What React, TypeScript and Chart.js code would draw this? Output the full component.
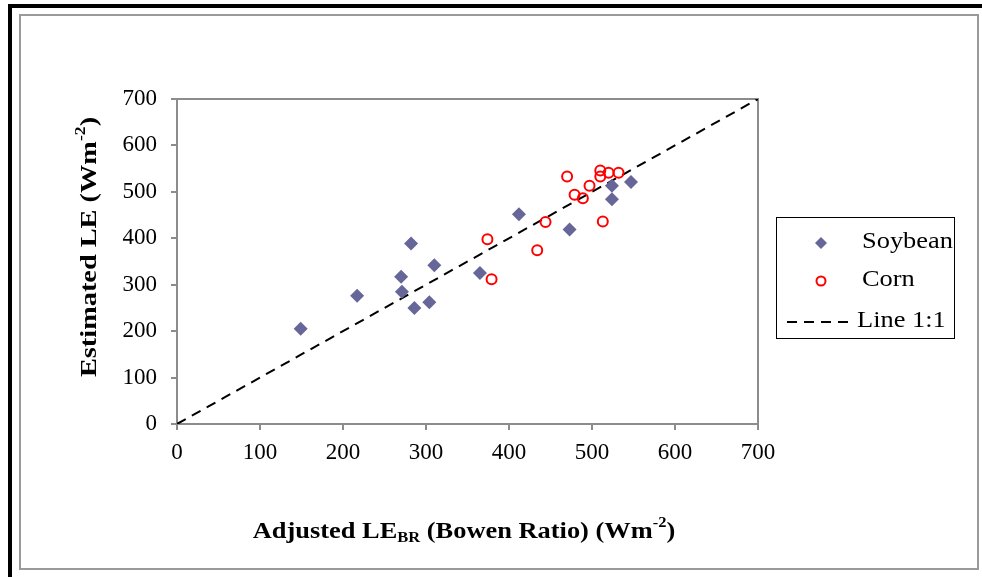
import React, { useEffect, useRef } from 'react';
import { Chart, registerables } from 'chart.js';
Chart.register(...registerables);

const soybeanX = [149, 217, 282, 270, 271, 286, 304, 310, 365, 412, 473, 524, 524, 547];
const soybeanY = [205, 276, 389, 317, 285, 250, 262, 342, 325, 452, 419, 484, 513, 521];
const cornX = [374, 379, 434, 444, 470, 479, 489, 497, 513, 510, 510, 520, 532];
const cornY = [398, 312, 374, 435, 533, 494, 486, 513, 436, 546, 533, 541, 541];
const lineX = [0, 700];
const lineY = [0, 700];
const axisMin = 0;
const axisMax = 700;
const axisStep = 100;
const seriesNames = ['Soybean', 'Corn', 'Line 1:1'];

const W = 982;
const H = 577;
const SERIF = '"Liberation Serif", "Times New Roman", serif';
const SOY_COLOR = '#666699';
const CORN_COLOR = '#ff0000';
const AXIS_GRAY = '#8c8c8c';

type Part = { text: string; font: string; dy: number };

function drawRich(ctx: CanvasRenderingContext2D, parts: Part[], cx: number, y: number, sx: number) {
  let total = 0;
  const widths = parts.map((p) => {
    ctx.font = p.font;
    const w = ctx.measureText(p.text).width;
    total += w;
    return w;
  });
  ctx.save();
  ctx.translate(cx, y);
  ctx.scale(sx, 1);
  let x = -total / 2;
  ctx.textAlign = 'left';
  ctx.textBaseline = 'alphabetic';
  parts.forEach((p, i) => {
    ctx.font = p.font;
    ctx.fillText(p.text, x, p.dy);
    x += widths[i];
  });
  ctx.restore();
}

function drawStretched(ctx: CanvasRenderingContext2D, text: string, x: number, y: number, sx: number) {
  ctx.save();
  ctx.translate(x, y);
  ctx.scale(sx, 1);
  ctx.fillText(text, 0, 0);
  ctx.restore();
}

const decorPlugin = {
  id: 'decor',
  beforeDraw(chart: any) {
    const ctx: CanvasRenderingContext2D = chart.ctx;
    ctx.save();
    ctx.fillStyle = '#ffffff';
    ctx.fillRect(0, 0, W, H);
    ctx.fillStyle = '#000000';
    ctx.fillRect(8, 4, W - 8, 4);
    ctx.fillRect(8, 4, 4, H - 4);
    ctx.strokeStyle = '#9a9a9a';
    ctx.lineWidth = 2;
    ctx.strokeRect(20, 15, 958, 554);
    ctx.restore();
  },
  beforeDatasetsDraw(chart: any) {
    const ctx: CanvasRenderingContext2D = chart.ctx;
    const a = chart.chartArea;
    ctx.save();
    ctx.strokeStyle = AXIS_GRAY;
    ctx.lineWidth = 2;
    ctx.strokeRect(a.left, a.top, a.right - a.left, a.bottom - a.top);
    ctx.restore();
  },
  afterDraw(chart: any) {
    const ctx: CanvasRenderingContext2D = chart.ctx;
    ctx.save();
    ctx.fillStyle = '#000000';
    const bold = `bold 24px ${SERIF}`;
    const boldSmall = `bold 15px ${SERIF}`;
    // x title
    drawRich(
      ctx,
      [
        { text: 'Adjusted LE', font: bold, dy: 0 },
        { text: 'BR', font: boldSmall, dy: 4 },
        { text: ' (Bowen Ratio) (Wm', font: bold, dy: 0 },
        { text: '-2', font: boldSmall, dy: -11 },
        { text: ')', font: bold, dy: 0 },
      ],
      464,
      538,
      1.1
    );
    // y title
    ctx.save();
    ctx.translate(96, 247);
    ctx.rotate(-Math.PI / 2);
    drawRich(
      ctx,
      [
        { text: 'Estimated LE (Wm', font: bold, dy: 0 },
        { text: '-2', font: boldSmall, dy: -11 },
        { text: ')', font: bold, dy: 0 },
      ],
      0,
      0,
      1.18
    );
    ctx.restore();

    // legend
    ctx.strokeStyle = '#000000';
    ctx.lineWidth = 1;
    ctx.strokeRect(776.5, 217.5, 178, 121);
    ctx.font = `24px ${SERIF}`;
    ctx.textBaseline = 'middle';
    ctx.textAlign = 'left';
    ctx.fillStyle = SOY_COLOR;
    ctx.beginPath();
    ctx.moveTo(821, 237);
    ctx.lineTo(827, 243);
    ctx.lineTo(821, 249);
    ctx.lineTo(815, 243);
    ctx.closePath();
    ctx.fill();
    ctx.strokeStyle = CORN_COLOR;
    ctx.lineWidth = 2;
    ctx.beginPath();
    ctx.arc(821, 281, 4.5, 0, Math.PI * 2);
    ctx.stroke();
    ctx.strokeStyle = '#000000';
    ctx.lineWidth = 2;
    ctx.setLineDash([10, 7]);
    ctx.beginPath();
    ctx.moveTo(787, 322);
    ctx.lineTo(854, 322);
    ctx.stroke();
    ctx.setLineDash([]);
    ctx.fillStyle = '#000000';
    drawStretched(ctx, seriesNames[0], 862, 242, 1.1);
    drawStretched(ctx, seriesNames[1], 862, 280, 1.1);
    drawStretched(ctx, seriesNames[2], 857, 321, 1.1);
    ctx.restore();
  },
};

export default function App() {
  const ref = useRef<HTMLCanvasElement | null>(null);
  useEffect(() => {
    const canvas = ref.current;
    if (!canvas) return;
    const soy = soybeanX.map((x, i) => ({ x, y: soybeanY[i] }));
    const corn = cornX.map((x, i) => ({ x, y: cornY[i] }));
    const line = lineX.map((x, i) => ({ x, y: lineY[i] }));
    const tickFont = { family: SERIF, size: 23 };
    const chart = new Chart(canvas, {
      type: 'scatter',
      data: {
        datasets: [
          {
            label: seriesNames[0],
            data: soy,
            pointStyle: 'rectRot',
            pointRadius: 7,
            backgroundColor: SOY_COLOR,
            borderColor: SOY_COLOR,
            borderWidth: 0,
          },
          {
            label: seriesNames[1],
            data: corn,
            pointStyle: 'circle',
            pointRadius: 5,
            backgroundColor: 'rgba(255,255,255,0)',
            borderColor: CORN_COLOR,
            borderWidth: 2,
          },
          {
            label: seriesNames[2],
            data: line,
            showLine: true,
            pointRadius: 0,
            borderColor: '#000000',
            borderWidth: 2,
            borderDash: [10, 7],
            fill: false,
          },
        ],
      },
      options: {
        responsive: false,
        animation: false,
        devicePixelRatio: 1,
        layout: { padding: { left: 0, top: 99, right: 224, bottom: 0 } },
        plugins: { legend: { display: false }, tooltip: { enabled: false }, title: { display: false } },
        scales: {
          x: {
            type: 'linear',
            min: axisMin,
            max: axisMax,
            ticks: { stepSize: axisStep, color: '#000', font: tickFont, padding: 9, maxRotation: 0 },
            grid: { drawOnChartArea: false, drawTicks: true, tickLength: 6, color: AXIS_GRAY, lineWidth: 2 },
            border: { display: false },
            afterFit: (s: any) => {
              s.height = 153;
            },
          },
          y: {
            type: 'linear',
            min: axisMin,
            max: axisMax,
            ticks: { stepSize: axisStep, color: '#000', font: tickFont, padding: 14 },
            grid: { drawOnChartArea: false, drawTicks: true, tickLength: 6, color: AXIS_GRAY, lineWidth: 2 },
            border: { display: false },
            afterFit: (s: any) => {
              s.width = 177;
            },
          },
        },
      },
      plugins: [decorPlugin],
    });
    return () => chart.destroy();
  }, []);
  return (
    <div style={{ position: 'fixed', left: 0, top: 0, width: W, height: H }}>
      <canvas ref={ref} width={W} height={H} style={{ display: 'block', width: W, height: H }} />
    </div>
  );
}
